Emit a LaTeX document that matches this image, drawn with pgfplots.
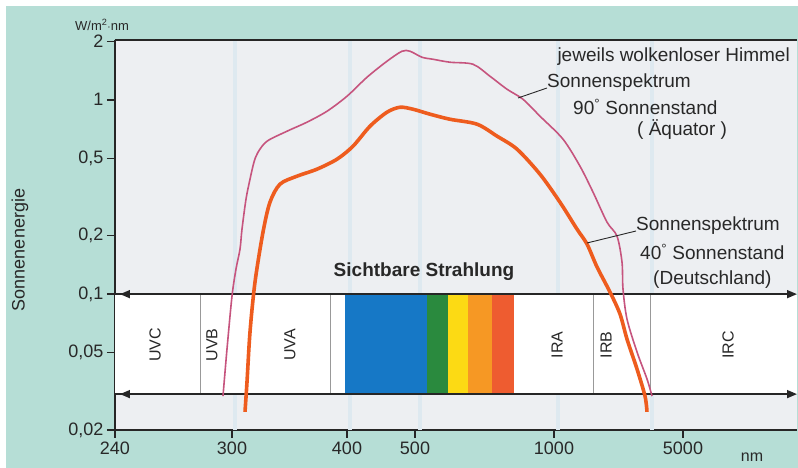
\documentclass[border=0pt]{standalone}
\usepackage{pgfplots}
\pgfplotsset{compat=1.18}
\usepackage{fontspec}
\setmainfont{Liberation Sans}
\setsansfont{Liberation Sans}
\usetikzlibrary{arrows.meta}

\definecolor{bgteal}{RGB}{182,222,214}
\definecolor{plotbg}{RGB}{237,239,242}
\definecolor{gridblue}{RGB}{222,233,240}
\definecolor{txt}{RGB}{40,40,40}
\definecolor{spblue}{RGB}{22,120,198}
\definecolor{spgreen}{RGB}{42,138,62}
\definecolor{spyellow}{RGB}{252,218,20}
\definecolor{sporange}{RGB}{246,152,36}
\definecolor{spred}{RGB}{238,92,48}
\definecolor{pinkline}{RGB}{198,84,126}
\definecolor{orangeline}{RGB}{238,92,30}

\begin{document}
\begin{tikzpicture}
% page background (scan border)
\fill[bgteal] (-115pt,-38pt) rectangle (683pt,430pt);
\fill[white] (-115pt,424pt) rectangle (683pt,430pt);
\fill[white] (-115pt,-38pt) rectangle (-109pt,430pt);
\useasboundingbox (-115pt,-38pt) rectangle (683pt,430pt);

\begin{axis}[
  at={(0,0)}, anchor=south west,
  scale only axis, width=682pt, height=390pt,
  xmin=115, xmax=797,
  ymode=log, ymin=0.02, ymax=2.03,
  axis x line*=bottom, axis y line*=left,
  axis line style={line width=1.8pt, draw=black!85, -},
  axis background/.style={fill=plotbg},
  xtick={115,232,347,415,554,683},
  xticklabels={240,300,400,500,1000,5000},
  ytick={0.02,0.05,0.1,0.2,0.5,1,2},
  yticklabels={{0,02},{0,05},{0,1},{0,2},{0,5},1,2},
  yminorticks=false, xminorticks=false,
  tick align=outside,
  major tick length=8pt,
  tick style={line width=1.5pt, black!85},
  ticklabel style={font=\fontsize{18}{20}\selectfont, text=txt},
  /pgf/number format/assume math mode=true,
  clip=false,
]
% faint vertical bands of the scan
\foreach \gx in {235,350,420,558,652} {
  \edef\tmp{\noexpand\draw[gridblue, line width=4pt] (axis cs:\gx,0.02) -- (axis cs:\gx,2.03);}
  \tmp
}
% top frame line
\draw[line width=1.8pt, black!85] (rel axis cs:0,1) -- (rel axis cs:1,1);

% radiation band
\fill[white] (axis cs:115,0.0306) rectangle (axis cs:797,0.1);
\fill[spblue]   (axis cs:345,0.0306) rectangle (axis cs:427,0.1);
\fill[spgreen]  (axis cs:427,0.0306) rectangle (axis cs:448,0.1);
\fill[spyellow] (axis cs:448,0.0306) rectangle (axis cs:468,0.1);
\fill[sporange] (axis cs:468,0.0306) rectangle (axis cs:492,0.1);
\fill[spred]    (axis cs:492,0.0306) rectangle (axis cs:514,0.1);
\foreach \dx in {200,330,593,650} {
  \edef\tmp{\noexpand\draw[black!40, line width=0.8pt] (axis cs:\dx,0.0306) -- (axis cs:\dx,0.1);}
  \tmp
}
\draw[line width=1.6pt, black!85] (axis cs:115,0.1) -- (axis cs:122,0.1);
\draw[line width=1.6pt, black!85] (axis cs:115,0.0306) -- (axis cs:122,0.0306);
\draw[line width=1.6pt, black!85, {Triangle[length=10pt,width=8pt]}-{Triangle[length=10pt,width=8pt]}]
  (axis cs:120,0.1) -- (axis cs:797,0.1);
\draw[line width=1.6pt, black!85, {Triangle[length=10pt,width=8pt]}-{Triangle[length=10pt,width=8pt]}]
  (axis cs:120,0.0306) -- (axis cs:797,0.0306);

% Sonnenspektrum 90 Grad Sonnenstand (Aequator)
\addplot[pinkline, line width=1.6pt, smooth, tension=0.5] coordinates {
  (223,0.0299) (227,0.0522) (232,0.0977) (236,0.1346) (240,0.1704)
  (242,0.216) (246,0.308) (250,0.390) (254,0.478) (258,0.537)
  (267,0.612) (287,0.689) (307,0.767) (327,0.873) (347,1.043)
  (367,1.306) (387,1.579) (402,1.777) (410,1.777) (422,1.655)
  (433,1.616) (450,1.560) (473,1.523) (490,1.321) (507,1.133)
  (523,1.006) (540,0.823) (563,0.627) (580,0.455) (593,0.335)
  (607,0.2346) (617,0.1988) (622,0.1462) (623,0.1062) (627,0.0744)
  (637,0.0504) (647,0.0366) (652,0.0299)
};

% Sonnenspektrum 40 Grad Sonnenstand (Deutschland)
\addplot[orangeline, line width=3.6pt, smooth, tension=0.5] coordinates {
  (245,0.0248) (247,0.0353) (250,0.0638) (255,0.1153) (263,0.2084)
  (270,0.2974) (280,0.368) (297,0.4044) (317,0.4395) (337,0.4946)
  (353,0.577) (370,0.731) (387,0.863) (400,0.915) (413,0.894)
  (430,0.843) (450,0.794) (477,0.749) (497,0.650) (517,0.557)
  (540,0.414) (560,0.297) (577,0.216) (587,0.181) (597,0.138)
  (610,0.1025) (620,0.079) (627,0.0587) (637,0.0412) (645,0.0299)
  (647,0.0248)
};
\end{axis}

% texts
\begin{scope}[every node/.style={text=txt, inner sep=0pt}]
\node[anchor=center] at (-13pt,405pt) {\fontsize{13}{15}\selectfont W/m\textsuperscript{2}$\cdot$nm};
\node[rotate=90, anchor=center] at (-95pt,180pt) {\fontsize{18}{20}\selectfont Sonnenenergie};
\node[anchor=center] at (637pt,-27pt) {\fontsize{16}{18}\selectfont nm};

\node[anchor=east] at (675pt,373pt) {\fontsize{19}{21}\selectfont jeweils wolkenloser Himmel};
\node[anchor=west] at (432pt,347pt) {\fontsize{19}{21}\selectfont Sonnenspektrum};
\node[anchor=west] at (458pt,323pt) {\fontsize{19}{21}\selectfont 90\textsuperscript{°} Sonnenstand};
\node[anchor=west] at (522pt,300pt) {\fontsize{19}{21}\selectfont ( Äquator )};
\draw[txt, line width=0.9pt] (403pt,332pt) -- (432pt,342pt);

\node[anchor=west] at (521pt,204pt) {\fontsize{19}{21}\selectfont Sonnenspektrum};
\node[anchor=west] at (525pt,178pt) {\fontsize{19}{21}\selectfont 40\textsuperscript{°} Sonnenstand};
\node[anchor=west] at (538pt,150pt) {\fontsize{19}{21}\selectfont (Deutschland)};
\draw[txt, line width=0.9pt] (472pt,187pt) -- (521pt,199pt);

\node[anchor=center] at (309pt,158pt) {\fontsize{19}{21}\selectfont\bfseries Sichtbare Strahlung};

\foreach \lx/\lt in {40/UVC,97/UVB,175/UVA,442/IRA,491/IRB,613/IRC} {
  \node[rotate=90, anchor=center] at (\lx pt,85pt) {\fontsize{16}{18}\selectfont \lt};
}
\end{scope}
\end{tikzpicture}
\end{document}
